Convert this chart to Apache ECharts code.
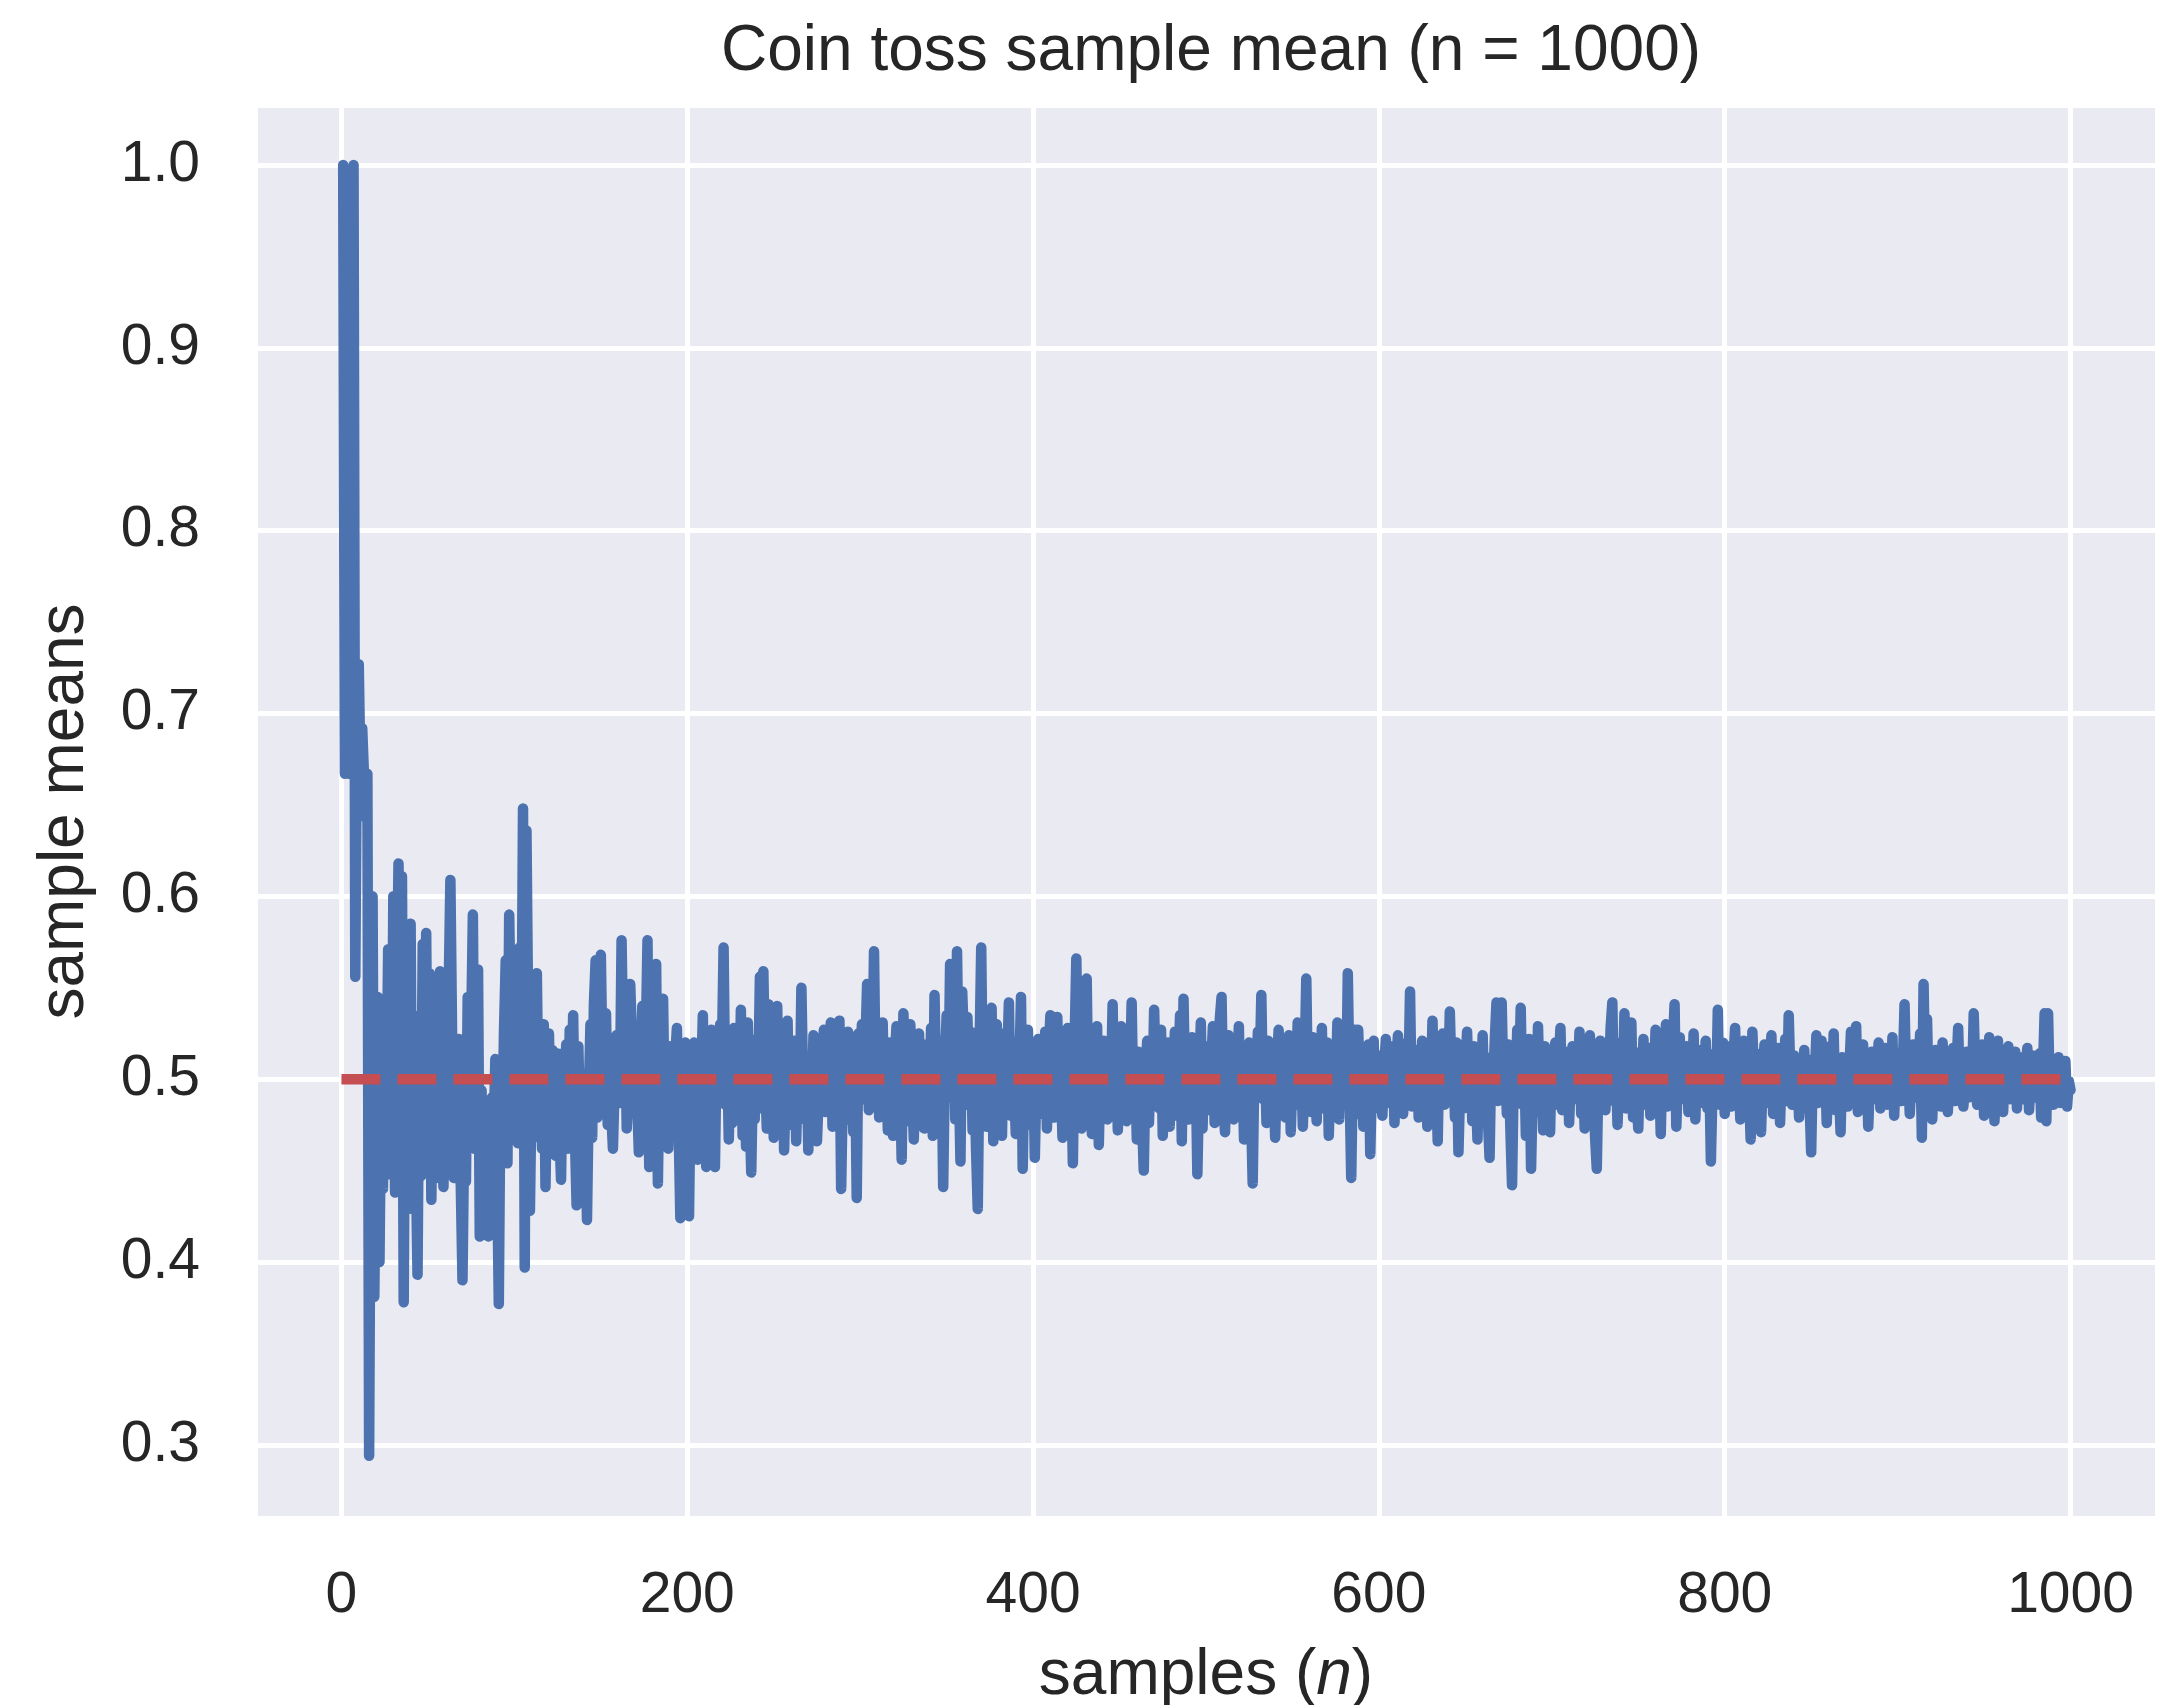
<!DOCTYPE html>
<html>
<head>
<meta charset="utf-8">
<script src="https://cdn.jsdelivr.net/npm/echarts@6/dist/echarts.min.js"></script>
<style>
html,body{margin:0;padding:0;background:#fff;}
#chart{width:2177px;height:1705px;}
</style>
</head>
<body>
<div id="chart"></div>
<script>
// Sample means for sample sizes n = 1 .. 1000
const means0to99 = [
1.0, 0.667, 0.75, 0.667, 0.714, 0.75, 1.0, 0.556, 0.7, 0.727,
0.667, 0.692, 0.667, 0.643, 0.667, 0.294, 0.5, 0.6, 0.381, 0.476,
0.545, 0.4, 0.5, 0.44, 0.538, 0.481, 0.571, 0.448, 0.467, 0.6,
0.438, 0.545, 0.618, 0.514, 0.611, 0.378, 0.553, 0.436, 0.5, 0.585,
0.429, 0.535, 0.455, 0.393, 0.522, 0.447, 0.574, 0.49, 0.58, 0.451,
0.558, 0.434, 0.537, 0.473, 0.518, 0.446, 0.559, 0.492, 0.441, 0.533,
0.467, 0.548, 0.609, 0.523, 0.446, 0.507, 0.456, 0.522, 0.443, 0.39,
0.472, 0.444, 0.545, 0.48, 0.526, 0.59, 0.462, 0.532, 0.56, 0.414,
0.494, 0.458, 0.417, 0.482, 0.414, 0.437, 0.49, 0.468, 0.511, 0.451,
0.377, 0.5, 0.468, 0.526, 0.565, 0.454, 0.59, 0.53, 0.47, 0.524];
const means100to199 = [
0.55, 0.465, 0.572, 0.495, 0.648, 0.397, 0.636, 0.532, 0.428, 0.5,
0.468, 0.523, 0.558, 0.478, 0.513, 0.462, 0.53, 0.441, 0.509, 0.525,
0.467, 0.516, 0.492, 0.458, 0.514, 0.472, 0.445, 0.514, 0.488, 0.519,
0.462, 0.527, 0.481, 0.535, 0.47, 0.431, 0.518, 0.474, 0.503, 0.466,
0.486, 0.423, 0.489, 0.53, 0.468, 0.541, 0.565, 0.479, 0.531, 0.568,
0.507, 0.49, 0.536, 0.475, 0.516, 0.483, 0.462, 0.498, 0.524, 0.51,
0.487, 0.576, 0.514, 0.535, 0.473, 0.496, 0.552, 0.522, 0.482, 0.509,
0.489, 0.46, 0.506, 0.54, 0.471, 0.521, 0.576, 0.452, 0.517, 0.479,
0.505, 0.563, 0.443, 0.51, 0.486, 0.544, 0.478, 0.502, 0.462, 0.518,
0.47, 0.497, 0.511, 0.528, 0.474, 0.424, 0.503, 0.488, 0.52, 0.46];
const means200to299 = [
0.425, 0.502, 0.478, 0.52, 0.489, 0.456, 0.513, 0.497, 0.535, 0.471,
0.452, 0.509, 0.483, 0.527, 0.461, 0.452, 0.518, 0.494, 0.53, 0.512,
0.572, 0.486, 0.521, 0.467, 0.504, 0.476, 0.528, 0.491, 0.513, 0.482,
0.538, 0.469, 0.517, 0.463, 0.531, 0.486, 0.449, 0.505, 0.478, 0.522,
0.495, 0.556, 0.484, 0.559, 0.502, 0.473, 0.541, 0.488, 0.516, 0.468,
0.536, 0.54, 0.483, 0.509, 0.526, 0.461, 0.498, 0.532, 0.475, 0.514,
0.49, 0.521, 0.466, 0.508, 0.485, 0.55, 0.497, 0.478, 0.512, 0.461,
0.505, 0.487, 0.524, 0.493, 0.466, 0.465, 0.516, 0.501, 0.527, 0.482,
0.519, 0.496, 0.531, 0.474, 0.507, 0.489, 0.523, 0.532, 0.44, 0.497,
0.514, 0.478, 0.526, 0.49, 0.505, 0.471, 0.518, 0.435, 0.525, 0.497];
const means300to399 = [
0.53, 0.489, 0.517, 0.552, 0.483, 0.538, 0.501, 0.57, 0.494, 0.526,
0.479, 0.512, 0.531, 0.486, 0.505, 0.472, 0.52, 0.497, 0.469, 0.511,
0.529, 0.484, 0.503, 0.456, 0.536, 0.493, 0.515, 0.477, 0.53, 0.498,
0.467, 0.512, 0.484, 0.525, 0.49, 0.508, 0.473, 0.519, 0.5, 0.486,
0.528, 0.469, 0.546, 0.495, 0.514, 0.482, 0.521, 0.441, 0.507, 0.535,
0.49, 0.563, 0.512, 0.545, 0.478, 0.57, 0.503, 0.455, 0.548, 0.521,
0.486, 0.534, 0.497, 0.526, 0.472, 0.509, 0.462, 0.429, 0.514, 0.572,
0.488, 0.531, 0.474, 0.519, 0.497, 0.539, 0.466, 0.512, 0.53, 0.485,
0.502, 0.469, 0.525, 0.493, 0.508, 0.542, 0.48, 0.514, 0.497, 0.47,
0.521, 0.503, 0.545, 0.451, 0.512, 0.486, 0.527, 0.475, 0.499, 0.516];
const means400to499 = [
0.457, 0.503, 0.522, 0.481, 0.508, 0.49, 0.526, 0.473, 0.514, 0.535,
0.496, 0.479, 0.511, 0.534, 0.487, 0.502, 0.468, 0.517, 0.493, 0.528,
0.476, 0.505, 0.454, 0.519, 0.566, 0.497, 0.512, 0.473, 0.525, 0.489,
0.555, 0.483, 0.504, 0.47, 0.516, 0.493, 0.529, 0.464, 0.507, 0.488,
0.521, 0.499, 0.478, 0.513, 0.495, 0.541, 0.482, 0.518, 0.472, 0.506,
0.529, 0.49, 0.511, 0.477, 0.524, 0.496, 0.542, 0.485, 0.509, 0.467,
0.515, 0.494, 0.479, 0.45, 0.503, 0.521, 0.476, 0.511, 0.489, 0.538,
0.498, 0.516, 0.484, 0.527, 0.469, 0.508, 0.491, 0.52, 0.474, 0.512,
0.497, 0.526, 0.48, 0.505, 0.535, 0.466, 0.544, 0.492, 0.515, 0.478,
0.502, 0.523, 0.487, 0.51, 0.448, 0.496, 0.531, 0.473, 0.514, 0.49];
const means500to599 = [
0.518, 0.483, 0.507, 0.529, 0.476, 0.512, 0.494, 0.533, 0.545, 0.488,
0.471, 0.509, 0.524, 0.49, 0.503, 0.478, 0.517, 0.496, 0.529, 0.481,
0.506, 0.467, 0.513, 0.492, 0.52, 0.485, 0.443, 0.508, 0.497, 0.526,
0.502, 0.546, 0.489, 0.514, 0.476, 0.521, 0.498, 0.483, 0.511, 0.468,
0.505, 0.527, 0.487, 0.515, 0.494, 0.479, 0.509, 0.524, 0.471, 0.502,
0.518, 0.486, 0.531, 0.495, 0.512, 0.474, 0.507, 0.555, 0.49, 0.516,
0.482, 0.523, 0.499, 0.477, 0.513, 0.491, 0.528, 0.484, 0.506, 0.52,
0.469, 0.503, 0.488, 0.517, 0.495, 0.531, 0.478, 0.51, 0.493, 0.522,
0.486, 0.558, 0.497, 0.446, 0.512, 0.527, 0.481, 0.527, 0.498, 0.515,
0.474, 0.506, 0.49, 0.519, 0.459, 0.502, 0.521, 0.484, 0.511, 0.496];
const means600to699 = [
0.513, 0.48, 0.504, 0.522, 0.487, 0.509, 0.493, 0.518, 0.476, 0.505,
0.524, 0.49, 0.512, 0.481, 0.507, 0.52, 0.496, 0.548, 0.485, 0.511,
0.498, 0.516, 0.479, 0.503, 0.521, 0.488, 0.509, 0.474, 0.514, 0.495,
0.532, 0.483, 0.506, 0.466, 0.517, 0.499, 0.525, 0.486, 0.508, 0.491,
0.537, 0.502, 0.515, 0.479, 0.52, 0.46, 0.496, 0.511, 0.484, 0.507,
0.526, 0.489, 0.513, 0.477, 0.518, 0.498, 0.467, 0.509, 0.492, 0.524,
0.485, 0.503, 0.479, 0.457, 0.512, 0.496, 0.521, 0.542, 0.488, 0.516,
0.542, 0.497, 0.508, 0.481, 0.519, 0.474, 0.442, 0.505, 0.489, 0.527,
0.495, 0.539, 0.486, 0.512, 0.469, 0.503, 0.522, 0.451, 0.498, 0.514,
0.482, 0.529, 0.493, 0.507, 0.472, 0.518, 0.488, 0.503, 0.471, 0.515];
const means700to799 = [
0.497, 0.52, 0.486, 0.509, 0.528, 0.483, 0.506, 0.491, 0.515, 0.476,
0.502, 0.518, 0.489, 0.511, 0.495, 0.526, 0.481, 0.508, 0.473, 0.513,
0.497, 0.524, 0.486, 0.507, 0.469, 0.451, 0.505, 0.521, 0.49, 0.517,
0.483, 0.509, 0.496, 0.528, 0.542, 0.488, 0.512, 0.475, 0.503, 0.52,
0.492, 0.536, 0.484, 0.507, 0.498, 0.531, 0.479, 0.515, 0.49, 0.473,
0.509, 0.494, 0.522, 0.486, 0.504, 0.517, 0.48, 0.511, 0.496, 0.527,
0.488, 0.506, 0.47, 0.514, 0.499, 0.53, 0.485, 0.508, 0.493, 0.519,
0.541, 0.474, 0.505, 0.523, 0.489, 0.512, 0.497, 0.518, 0.482, 0.506,
0.491, 0.525, 0.478, 0.51, 0.496, 0.516, 0.487, 0.503, 0.521, 0.484,
0.508, 0.455, 0.499, 0.514, 0.49, 0.538, 0.486, 0.507, 0.52, 0.481];
const means800to899 = [
0.504, 0.492, 0.518, 0.485, 0.509, 0.528, 0.491, 0.512, 0.478, 0.503,
0.521, 0.489, 0.507, 0.496, 0.467, 0.526, 0.498, 0.514, 0.483, 0.508,
0.471, 0.502, 0.519, 0.487, 0.511, 0.495, 0.524, 0.481, 0.506, 0.49,
0.517, 0.476, 0.509, 0.497, 0.522, 0.488, 0.535, 0.501, 0.486, 0.513,
0.494, 0.504, 0.479, 0.51, 0.492, 0.516, 0.484, 0.507, 0.489, 0.46,
0.511, 0.498, 0.524, 0.487, 0.505, 0.521, 0.493, 0.509, 0.476, 0.502,
0.518, 0.49, 0.525, 0.483, 0.506, 0.497, 0.471, 0.512, 0.494, 0.508,
0.485, 0.503, 0.526, 0.491, 0.514, 0.529, 0.482, 0.505, 0.496, 0.519,
0.487, 0.509, 0.474, 0.501, 0.515, 0.489, 0.506, 0.495, 0.52, 0.484,
0.511, 0.498, 0.517, 0.486, 0.503, 0.492, 0.523, 0.48, 0.508, 0.496];
const means900to999 = [
0.514, 0.488, 0.506, 0.541, 0.493, 0.51, 0.481, 0.502, 0.519, 0.49,
0.507, 0.497, 0.525, 0.468, 0.552, 0.496, 0.533, 0.487, 0.508, 0.478,
0.504, 0.516, 0.491, 0.511, 0.485, 0.52, 0.498, 0.509, 0.482, 0.503,
0.494, 0.517, 0.488, 0.506, 0.528, 0.492, 0.511, 0.485, 0.499, 0.515,
0.49, 0.507, 0.494, 0.536, 0.501, 0.486, 0.512, 0.497, 0.519, 0.48,
0.505, 0.491, 0.523, 0.487, 0.509, 0.477, 0.502, 0.521, 0.493, 0.51,
0.482, 0.506, 0.496, 0.518, 0.489, 0.511, 0.499, 0.515, 0.484, 0.507,
0.494, 0.512, 0.489, 0.505, 0.517, 0.483, 0.501, 0.513, 0.49, 0.508,
0.497, 0.514, 0.479, 0.503, 0.536, 0.477, 0.536, 0.492, 0.509, 0.486,
0.504, 0.498, 0.512, 0.487, 0.506, 0.492, 0.51, 0.485, 0.499, 0.494];

// Expected value reference line
const refLineX = [0, 1000];
const refLineY = [0.5, 0.5];

const sampleMeans = [].concat(means0to99, means100to199, means200to299, means300to399,
  means400to499, means500to599, means600to699, means700to799, means800to899, means900to999);
const meanSeriesData = sampleMeans.map((v, i) => [i + 1, v]);
const refSeriesData = refLineX.map((x, i) => [x, refLineY[i]]);

const FONT = '"Liberation Sans", Arial, sans-serif';
const TXT = '#262626';
const GRID_LEFT = 255, GRID_RIGHT = 20;

const chart = echarts.init(document.getElementById('chart'), null, {renderer: 'canvas'});
chart.setOption({
  animation: false,
  backgroundColor: '#ffffff',
  title: {
    text: 'Coin toss sample mean (n = 1000)',
    left: (GRID_LEFT + (2177 - GRID_RIGHT)) / 2,
    textAlign: 'center',
    top: 15,
    textStyle: {fontFamily: FONT, fontSize: 64, fontWeight: 'normal', color: TXT}
  },
  grid: {
    left: GRID_LEFT, right: GRID_RIGHT, top: 105, bottom: 187,
    outerBoundsMode: 'none',
    containLabel: false,
    show: true, backgroundColor: '#EAEAF2', borderWidth: 0
  },
  xAxis: {
    type: 'value',
    min: -50, max: 1050,
    splitNumber: 5,
    name: 'samples ({it|n})',
    nameLocation: 'middle',
    nameGap: 126,
    nameTextStyle: {
      fontFamily: FONT, fontSize: 64, color: TXT,
      rich: {it: {fontFamily: FONT, fontSize: 64, fontStyle: 'italic', color: TXT}}
    },
    axisLine: {show: false},
    axisTick: {show: false},
    axisLabel: {
      fontFamily: FONT, fontSize: 57, color: TXT, margin: 50,
      showMinLabel: false, showMaxLabel: false,
      formatter: v => String(v)
    },
    splitLine: {show: true, lineStyle: {color: '#ffffff', width: 5}}
  },
  yAxis: {
    type: 'value',
    min: 0.26, max: 1.0328,
    splitNumber: 8,
    name: 'sample means',
    nameLocation: 'middle',
    nameGap: 158,
    nameTextStyle: {fontFamily: FONT, fontSize: 64, color: TXT},
    axisLine: {show: false},
    axisTick: {show: false},
    axisLabel: {
      fontFamily: FONT, fontSize: 57, color: TXT, margin: 55,
      showMinLabel: false, showMaxLabel: false,
      formatter: v => v.toFixed(1)
    },
    splitLine: {show: true, lineStyle: {color: '#ffffff', width: 5}}
  },
  series: [
    {
      type: 'line',
      data: meanSeriesData,
      symbol: 'none',
      lineStyle: {color: '#4C72B0', width: 10.5, cap: 'round', join: 'round'},
      z: 2
    },
    {
      type: 'line',
      data: refSeriesData,
      symbol: 'none',
      lineStyle: {color: '#C44E52', width: 10.5, type: [39, 17]},
      z: 3
    }
  ]
});
</script>
</body>
</html>
